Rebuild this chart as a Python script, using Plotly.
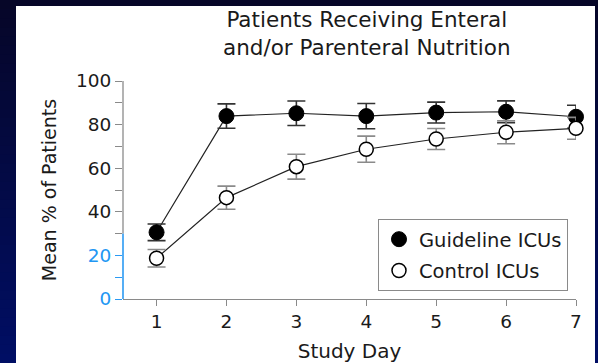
import plotly.graph_objects as go

days = [1, 2, 3, 4, 5, 6, 7]
guideline = [30.6, 83.9, 85.2, 83.9, 85.5, 85.9, 83.6]
guideline_err = [3.8, 5.6, 5.6, 5.8, 4.8, 5.0, 5.3]
control = [18.7, 46.5, 60.7, 68.7, 73.4, 76.5, 78.3]
control_err = [4.0, 5.3, 5.7, 6.0, 4.8, 5.3, 5.0]
y_ticks_main = [40, 60, 80, 100]
y_ticks_blue = [0, 20]
x_ticks = [1, 2, 3, 4, 5, 6, 7]

FONT = "DejaVu Sans"
W, H = 598, 363
ML, MR, MT, MB = 123, 22, 81, 64
PW, PH = W - ML - MR, H - MT - MB

def px_x(p):
    return (p - ML) / PW

def px_y(p):
    return (H - MB - p) / PH

fig = go.Figure()

fig.add_trace(go.Scatter(x=days, y=guideline, mode="lines", showlegend=False, hoverinfo="skip",
                         line=dict(color="#222222", width=1.2), cliponaxis=False))
fig.add_trace(go.Scatter(x=days, y=control, mode="lines", showlegend=False, hoverinfo="skip",
                         line=dict(color="#222222", width=1.2), cliponaxis=False))
fig.add_trace(go.Scatter(
    x=days, y=guideline, name="Guideline ICUs", mode="markers",
    legendgroup="g",
    marker=dict(size=15, color="black", line=dict(color="black", width=1)),
    error_y=dict(type="data", array=guideline_err, color="#333333", thickness=1.6, width=9),
    cliponaxis=False,
))
fig.add_trace(go.Scatter(
    x=days, y=control, name="Control ICUs", mode="markers",
    legendgroup="c",
    marker=dict(size=14, color="white", line=dict(color="black", width=1.5)),
    error_y=dict(type="data", array=control_err, color="#8a8a8a", thickness=1.6, width=9),
    cliponaxis=False,
))
fig.add_trace(go.Scatter(x=[days[0]], y=[None], yaxis="y2", showlegend=False,
                         hoverinfo="skip", mode="markers"))

shapes = []
n = 40
top = (6, 6, 40)
bot = (0, 14, 100)
for i in range(n):
    t = i / (n - 1)
    c = tuple(int(round(top[k] + (bot[k] - top[k]) * t)) for k in range(3))
    y0 = H * i / n
    y1 = H * (i + 1) / n + 1
    shapes.append(dict(type="rect", xref="paper", yref="paper", layer="below",
                       x0=px_x(0), x1=px_x(W), y0=px_y(y1), y1=px_y(y0),
                       fillcolor="rgb(%d,%d,%d)" % c, line=dict(width=0)))
shapes.append(dict(type="rect", xref="paper", yref="paper", layer="below",
                   x0=px_x(16), x1=px_x(595), y0=px_y(H), y1=px_y(6),
                   fillcolor="white", line=dict(width=0)))
shapes.append(dict(type="line", xref="paper", yref="y", x0=0, x1=0, y0=0, y1=30,
                   line=dict(color="#2b9af3", width=1.6)))
shapes.append(dict(type="line", xref="paper", yref="y", x0=0, x1=0, y0=30, y1=100,
                   line=dict(color="#8a8a8a", width=1.3)))

fig.update_layout(
    width=W, height=H,
    margin=dict(l=ML, r=MR, t=MT, b=MB, autoexpand=False),
    paper_bgcolor="rgb(3,10,70)",
    plot_bgcolor="rgba(0,0,0,0)",
    shapes=shapes,
    font=dict(family=FONT, color="#1a1a1a"),
    annotations=[dict(text="Patients Receiving Enteral<br>and/or Parenteral Nutrition",
                      font=dict(family=FONT, size=21.5, color="#1a1a1a"),
                      xref="paper", yref="paper", x=px_x(367), y=px_y(5),
                      xanchor="center", yanchor="top", showarrow=False, align="center")],
    xaxis=dict(range=[0.52, 7.0], tickvals=x_ticks, ticktext=[str(v) for v in x_ticks],
               automargin=False,
               showgrid=False, zeroline=False, showline=True, linecolor="#8a8a8a", linewidth=1.3,
               ticks="outside", ticklen=6, tickcolor="#8a8a8a", tickwidth=1.3,
               tickfont=dict(family=FONT, size=18.5, color="#1a1a1a"),
               title=dict(text="Study Day", font=dict(family=FONT, size=20, color="#1a1a1a"),
                          standoff=12)),
    yaxis=dict(range=[0, 100], tickvals=y_ticks_main, ticktext=[str(v) for v in y_ticks_main],
               automargin=False,
               showgrid=False, zeroline=False, showline=False,
               ticks="outside", ticklen=7, tickcolor="#8a8a8a", tickwidth=1.3,
               tickfont=dict(family=FONT, size=18.5, color="#1a1a1a"),
               minor=dict(tickvals=[30, 50, 70, 90], ticks="outside", ticklen=7,
                          tickcolor="#8a8a8a", tickwidth=1.3),
               title=dict(text="Mean % of Patients", font=dict(family=FONT, size=19, color="#1a1a1a"),
                          standoff=14)),
    yaxis2=dict(range=[0, 100], overlaying="y", anchor="x", side="left",
                automargin=False,
                tickvals=y_ticks_blue, ticktext=[str(v) for v in y_ticks_blue],
                showgrid=False, zeroline=False, showline=False,
                ticks="outside", ticklen=7, tickcolor="#2b9af3", tickwidth=1.3,
                tickfont=dict(family=FONT, size=18.5, color="#2196f3"),
                minor=dict(tickvals=[10], ticks="outside", ticklen=7,
                           tickcolor="#2b9af3", tickwidth=1.3)),
    legend=dict(x=px_x(378), y=px_y(219), xanchor="left", yanchor="top",
                bgcolor="white", bordercolor="#8a8a8a", borderwidth=1,
                font=dict(family=FONT, size=19.5, color="#1a1a1a"),
                tracegroupgap=3, traceorder="grouped"),
    showlegend=True,
)

fig.write_html("out.html")
